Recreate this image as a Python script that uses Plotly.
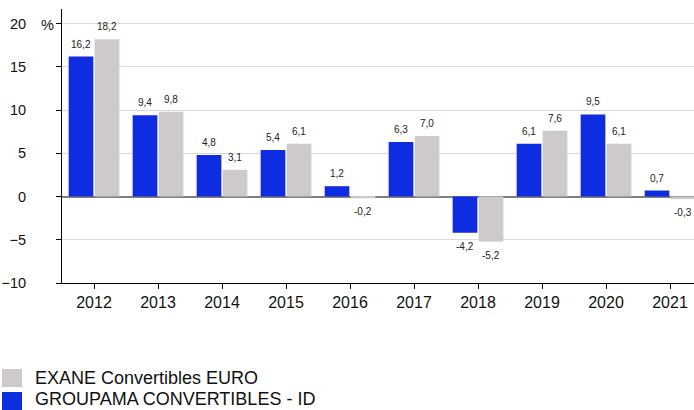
import plotly.graph_objects as go

years = ["2012", "2013", "2014", "2015", "2016", "2017", "2018", "2019", "2020", "2021"]
groupama = [16.2, 9.4, 4.8, 5.4, 1.2, 6.3, -4.2, 6.1, 9.5, 0.7]
exane = [18.2, 9.8, 3.1, 6.1, -0.2, 7.0, -5.2, 7.6, 6.1, -0.3]
y_ticks = [-10, -5, 0, 5, 10, 15, 20]

name_g = "GROUPAMA CONVERTIBLES - ID"
name_e = "EXANE Convertibles EURO"
col_g = "#0F2DE0"
col_e = "#CECACA"
FONT = "Arial, 'Liberation Sans', sans-serif"

W, H = 694, 410
ml, mr, mt, mb = 62, 0, 9, 127
pw = W - ml - mr
ph = H - mt - mb
bargap = 0.1875
bargroupgap = 0.05

def fmt(v):
    return f"{v:.1f}".replace(".", ",")

fig = go.Figure()
fig.add_bar(x=years, y=groupama, name=name_g, marker=dict(color=col_g, line=dict(width=0)))
fig.add_bar(x=years, y=exane, name=name_e, marker=dict(color=col_e, line=dict(width=0)))

# data labels
off = (1 - bargap) / 4
annos = []
for series, sign in ((groupama, -1), (exane, 1)):
    for i, v in enumerate(series):
        annos.append(dict(
            x=i + sign * off, y=v, xref="x", yref="y", text=fmt(v), showarrow=False,
            yanchor="bottom" if v >= 0 else "top", yshift=5 if v >= 0 else -6,
            font=dict(family=FONT, size=10, color="#222222"),
        ))

# percent sign
annos.append(dict(x=-15 / pw, y=20, xref="paper", yref="y", text="%", showarrow=False,
                  xanchor="center", yanchor="middle", yshift=-1,
                  font=dict(family=FONT, size=14.5, color="#111111")))

# legend (manual, large square swatches)
def px_x(px):
    return (px - ml) / pw

def px_y(py):
    return (mt + ph - py) / ph

shapes = []
legend_items = [(name_e, col_e, 369, 387, 378), (name_g, col_g, 392, 410, 398.5)]
for name, col, top, bot, ty in legend_items:
    shapes.append(dict(type="rect", xref="paper", yref="paper",
                       x0=px_x(2), x1=px_x(22), y0=px_y(bot), y1=px_y(top),
                       fillcolor=col, line=dict(width=0)))
    annos.append(dict(x=px_x(34), y=px_y(ty), xref="paper", yref="paper",
                      text=name, showarrow=False, xanchor="left", yanchor="middle",
                      borderpad=0,
                      font=dict(family=FONT, size=18, color="#111111")))

fig.update_layout(
    width=W, height=H,
    margin=dict(l=ml, r=mr, t=mt, b=mb, pad=0),
    barmode="group", bargap=bargap, bargroupgap=bargroupgap,
    plot_bgcolor="white", paper_bgcolor="white",
    showlegend=False,
    annotations=annos, shapes=shapes,
    font=dict(family=FONT, color="#111111"),
)
fig.update_xaxes(
    type="category", range=[-0.5, -0.5 + pw / 64],
    showline=True, linecolor="#000000", linewidth=1,
    ticks="outside", ticklen=5, tickcolor="#000000",
    tickfont=dict(family=FONT, size=16, color="#111111"),
    showgrid=False, zeroline=False,
)
fig.update_yaxes(
    range=[-10, 21.7], tickvals=y_ticks,
    showline=True, linecolor="#000000", linewidth=1,
    ticks="outside", ticklen=5, tickcolor="#000000",
    ticklabelstandoff=27,
    tickfont=dict(family=FONT, size=14.5, color="#111111"),
    showgrid=True, gridcolor="#DADADA", gridwidth=1,
    zeroline=True, zerolinecolor="#808080", zerolinewidth=2,
)

fig.write_html("out.html", config={"displayModeBar": False},
               post_script="document.body.style.margin='0';document.body.style.padding='0';document.body.style.overflow='hidden';")
